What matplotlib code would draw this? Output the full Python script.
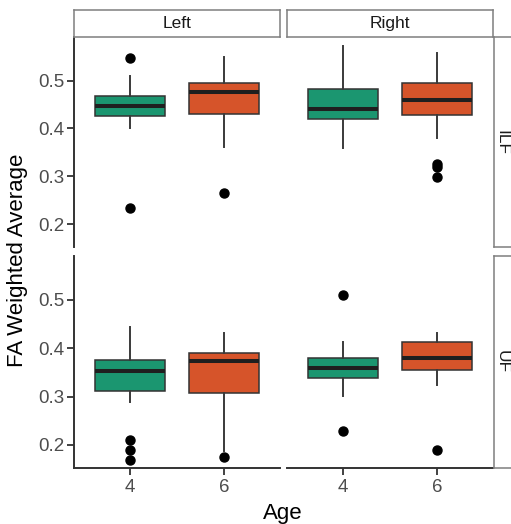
import matplotlib
matplotlib.use("Agg")
import matplotlib.pyplot as plt

# ---- data (order: ILF-Left-4, ILF-Left-6, ILF-Right-4, ILF-Right-6, UF-Left-4, UF-Left-6, UF-Right-4, UF-Right-6)
tracts = ["ILF", "UF"]
sides = ["Left", "Right"]
ages = ["4", "6"]
whisker_low = [0.401, 0.362, 0.358, 0.379, 0.289, 0.188, 0.302, 0.323]
q1 = [0.425, 0.429, 0.419, 0.427, 0.311, 0.308, 0.338, 0.355]
median = [0.447, 0.475, 0.441, 0.460, 0.352, 0.373, 0.360, 0.380]
q3 = [0.467, 0.495, 0.483, 0.495, 0.375, 0.390, 0.380, 0.413]
whisker_high = [0.510, 0.549, 0.572, 0.558, 0.445, 0.431, 0.413, 0.431]
outliers = [[0.547, 0.233], [0.265], [], [0.326, 0.320, 0.298],
            [0.211, 0.190, 0.169], [0.174], [0.510, 0.228], [0.190]]
yticks = [0.2, 0.3, 0.4, 0.5]
ytick_labels = ["0.2", "0.3", "0.4", "0.5"]

colors = ["#1b9670", "#d6542a"]

W, H = 511, 524
fig = plt.figure(figsize=(W / 100, H / 100), dpi=100)
plt.rcParams['font.family'] = ['Liberation Sans', 'DejaVu Sans']


def rect(x0, y0, x1, y1):
    return [x0 / W, 1 - y1 / H, (x1 - x0) / W, (y1 - y0) / H]


col_x = [(74, 280), (287, 493)]
row_y = [(37, 247), (256, 468)]
grey = "#7f7f7f"
axcol = "#333333"

for r, tract in enumerate(tracts):
    for c, side in enumerate(sides):
        ax = fig.add_axes(rect(col_x[c][0], row_y[r][0], col_x[c][1], row_y[r][1]))
        stats = []
        for k in range(2):
            i = r * 4 + c * 2 + k
            stats.append(dict(med=median[i], q1=q1[i], q3=q3[i],
                              whislo=whisker_low[i], whishi=whisker_high[i],
                              fliers=outliers[i]))
        bp = ax.bxp(stats, positions=[1, 2], widths=0.75, patch_artist=True,
                    showcaps=False,
                    boxprops=dict(edgecolor=axcol, linewidth=1.1),
                    whiskerprops=dict(color="#3a3a3a", linewidth=1.4),
                    medianprops=dict(color="#1f1f1f", linewidth=2.9),
                    flierprops=dict(marker="o", markerfacecolor="black",
                                    markeredgecolor="black", markersize=6.5))
        for patch, col in zip(bp["boxes"], colors):
            patch.set_facecolor(col)
        ax.set_xlim(0.4, 2.6)
        ax.set_ylim(0.152, 0.591)
        for s in ["top", "right"]:
            ax.spines[s].set_visible(False)
        ax.spines["left"].set_visible(c == 0)
        ax.spines["bottom"].set_visible(r == 1)
        for s in ["left", "bottom"]:
            ax.spines[s].set_color(axcol)
            ax.spines[s].set_linewidth(1.4)
        ax.set_yticks(yticks)
        ax.set_xticks([1, 2])
        if c == 0:
            ax.set_yticklabels(ytick_labels)
            ax.tick_params(axis="y", length=5, width=1.3, color=axcol,
                           labelsize=13.5, labelcolor="#4d4d4d", pad=2)
        else:
            ax.tick_params(axis="y", left=False, labelleft=False)
        if r == 1:
            ax.set_xticklabels(ages)
            ax.tick_params(axis="x", length=5, width=1.3, color=axcol,
                           labelsize=13.5, labelcolor="#4d4d4d", pad=3)
        else:
            ax.tick_params(axis="x", bottom=False, labelbottom=False)

# strips
for c, side in enumerate(sides):
    sa = fig.add_axes(rect(col_x[c][0], 10, col_x[c][1], 37))
    sa.set_xticks([]); sa.set_yticks([])
    for s in sa.spines.values():
        s.set_color(grey); s.set_linewidth(1.1)
    sa.text(0.5, 0.5, side, ha="center", va="center", fontsize=12.5,
            color="#1a1a1a", transform=sa.transAxes)
for r, tract in enumerate(tracts):
    sa = fig.add_axes(rect(494, row_y[r][0], 512, row_y[r][1]))
    sa.set_xticks([]); sa.set_yticks([])
    for s in sa.spines.values():
        s.set_color(grey); s.set_linewidth(1.1)
    sa.text(0.45, 0.5, tract, ha="center", va="center", fontsize=12.5,
            rotation=-90, color="#1a1a1a", transform=sa.transAxes)

fig.text(18 / W, 1 - 260 / H, "FA Weighted Average", rotation=90,
         ha="center", va="center", fontsize=16, color="black")
fig.text(283 / W, 1 - 513 / H, "Age", ha="center", va="center",
         fontsize=16, color="black")

fig.savefig("out.png", dpi=100)
